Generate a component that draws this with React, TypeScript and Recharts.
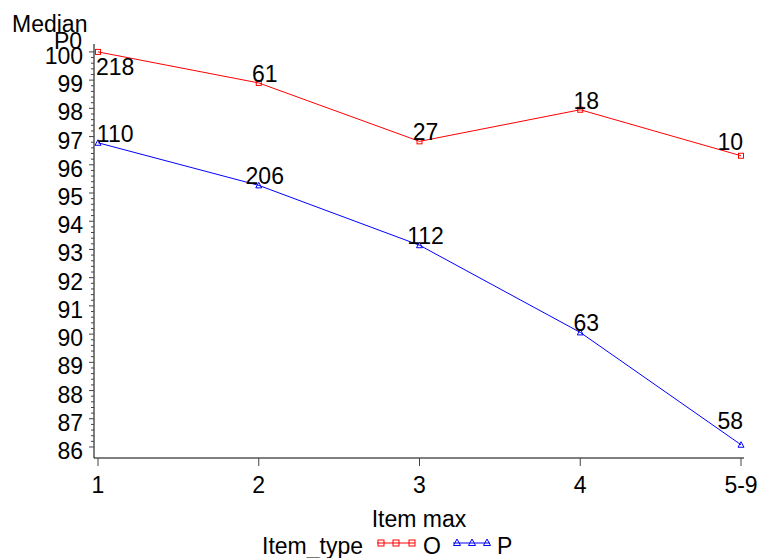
import { LineChart, Line, XAxis, YAxis, Legend, LabelList } from 'recharts';

const itemMax = ['1', '2', '3', '4', '5-9'];
const medianO = [100.0, 98.9, 96.83, 97.95, 96.32];
const medianP = [96.78, 95.27, 93.15, 90.06, 86.08];
const countO = [218, 61, 27, 18, 10];
const countP = [110, 206, 112, 63, 58];
const yMajorTicks = [86, 87, 88, 89, 90, 91, 92, 93, 94, 95, 96, 97, 98, 99, 100];

const data = itemMax.map((m, i) => ({
    itemMax: m,
    O: medianO[i],
    P: medianP[i],
    nO: countO[i],
    nP: countP[i],
}));

// 4 minor ticks between each pair of major ticks
const yTicks: number[] = [];
yMajorTicks.forEach((t, i) => {
    yTicks.push(t);
    if (i < yMajorTicks.length - 1) {
        for (let k = 1; k < 5; k++) yTicks.push(Math.round((t + k * 0.2) * 10) / 10);
    }
});

const FONT = '"Liberation Sans", Arial, sans-serif';
const FS = 23;
const PLOT_LEFT = 94;
const PLOT_RIGHT = 744;

const YTick = (props: any) => {
    const { x, y, payload } = props;
    const major = Number.isInteger(payload.value);
    return (
        <g>
            <line x1={x - (major ? 5 : 3)} x2={x} y1={y} y2={y} stroke="#444" />
            {major && (
                <text x={x - 11} y={y + 12} textAnchor="end" fontSize={FS} fontFamily={FONT} fill="#000">
                    {payload.value}
                </text>
            )}
        </g>
    );
};

const XTick = (props: any) => {
    const { x, y, payload } = props;
    return (
        <g>
            <line x1={x} x2={x} y1={y} y2={y + 8} stroke="#444" />
            <text x={x} y={y + 35} textAnchor="middle" fontSize={FS} fontFamily={FONT} fill="#000">
                {payload.value}
            </text>
        </g>
    );
};

const SquareDot = (props: any) => {
    const { cx, cy } = props;
    return <rect x={cx - 2.5} y={cy - 2.5} width={5} height={5} fill="none" stroke="#ff0000" />;
};

const TriDot = (props: any) => {
    const { cx, cy } = props;
    return <path d={`M${cx},${cy - 3} L${cx + 3},${cy + 2.5} L${cx - 3},${cy + 2.5} Z`} fill="none" stroke="#0000ff" />;
};

// below: index of the label drawn under its point; lift: extra rise when pushed left by the frame
const makeCountLabel = (below: number, lift: number) => (props: any) => {
    const { x, y, value, index } = props;
    const txt = String(value);
    const w = txt.length * FS * 0.556;
    let cx = x + 6;
    let ty = index === below ? y + 23 : y - 1;
    if (cx - w / 2 < PLOT_LEFT + 2) cx = PLOT_LEFT + 2 + w / 2;
    if (cx + w / 2 > PLOT_RIGHT - 1) {
        cx = PLOT_RIGHT - 1 - w / 2;
        ty -= lift;
    }
    return (
        <text x={cx} y={ty} textAnchor="middle" fontSize={FS} fontFamily={FONT} fill="#000">
            {txt}
        </text>
    );
};

const YTitle = () => (
    <g>
        <text x={12} y={32} fontSize={FS} fontFamily={FONT} fill="#000">Median</text>
        <text x={54} y={49} fontSize={FS} fontFamily={FONT} fill="#000">P0</text>
    </g>
);

const LegendBox = () => (
    <svg width={757} height={26} style={{ display: 'block' }}>
        <text x={262} y={22} fontSize={FS} fontFamily={FONT} fill="#000">Item_type</text>
        <line x1={377} x2={415} y1={11} y2={11} stroke="#ff0000" />
        {[381, 396, 412].map((x) => (
            <rect key={x} x={x - 3} y={8} width={6} height={6} fill="none" stroke="#ff0000" />
        ))}
        <text x={423} y={22} fontSize={FS} fontFamily={FONT} fill="#000">O</text>
        <line x1={453} x2={490} y1={11} y2={11} stroke="#0000ff" />
        {[457, 472, 487].map((x) => (
            <path key={x} d={`M${x},${7} L${x + 3.5},${13.5} L${x - 3.5},${13.5} Z`} fill="none" stroke="#0000ff" />
        ))}
        <text x={497} y={22} fontSize={FS} fontFamily={FONT} fill="#000">P</text>
    </svg>
);

export default function App() {
    return (
        <div style={{ position: 'absolute', left: 0, top: 0, background: '#fff' }}>
            <LineChart width={757} height={560} data={data} margin={{ top: 44, right: 13, bottom: 32, left: 34 }}>
                <XAxis
                    dataKey="itemMax"
                    height={70}
                    padding={{ left: 4, right: 3 }}
                    axisLine={{ stroke: '#000' }}
                    tickLine={false}
                    tickSize={0}
                    tickMargin={0}
                    tick={<XTick />}
                    interval={0}
                    label={{ value: 'Item max', position: 'insideBottom', offset: 1, fontSize: FS, fontFamily: FONT, fill: '#000' }}
                />
                <XAxis xAxisId="top" dataKey="itemMax" orientation="top" height={0} tick={false} tickLine={false} axisLine={{ stroke: '#000' }} />
                <YAxis
                    domain={[85.61, 100.28]}
                    ticks={yTicks}
                    interval={0}
                    width={60}
                    allowDataOverflow
                    axisLine={{ stroke: '#000' }}
                    tickLine={false}
                    tickSize={0}
                    tickMargin={0}
                    tick={<YTick />}
                    label={<YTitle />}
                />
                <YAxis yAxisId="right" orientation="right" width={0} tick={false} tickLine={false} axisLine={{ stroke: '#000' }} />
                <Legend
                    layout="horizontal"
                    verticalAlign="middle"
                    align="center"
                    wrapperStyle={{ top: 532, left: 0, width: 757 }}
                    content={<LegendBox />}
                />
                <Line dataKey="O" stroke="#ff0000" strokeWidth={1} dot={<SquareDot />} activeDot={false} isAnimationActive={false}>
                    <LabelList dataKey="nO" content={makeCountLabel(0, 5)} />
                </Line>
                <Line dataKey="P" stroke="#0000ff" strokeWidth={1} dot={<TriDot />} activeDot={false} isAnimationActive={false}>
                    <LabelList dataKey="nP" content={makeCountLabel(-1, 15)} />
                </Line>
            </LineChart>
        </div>
    );
}
